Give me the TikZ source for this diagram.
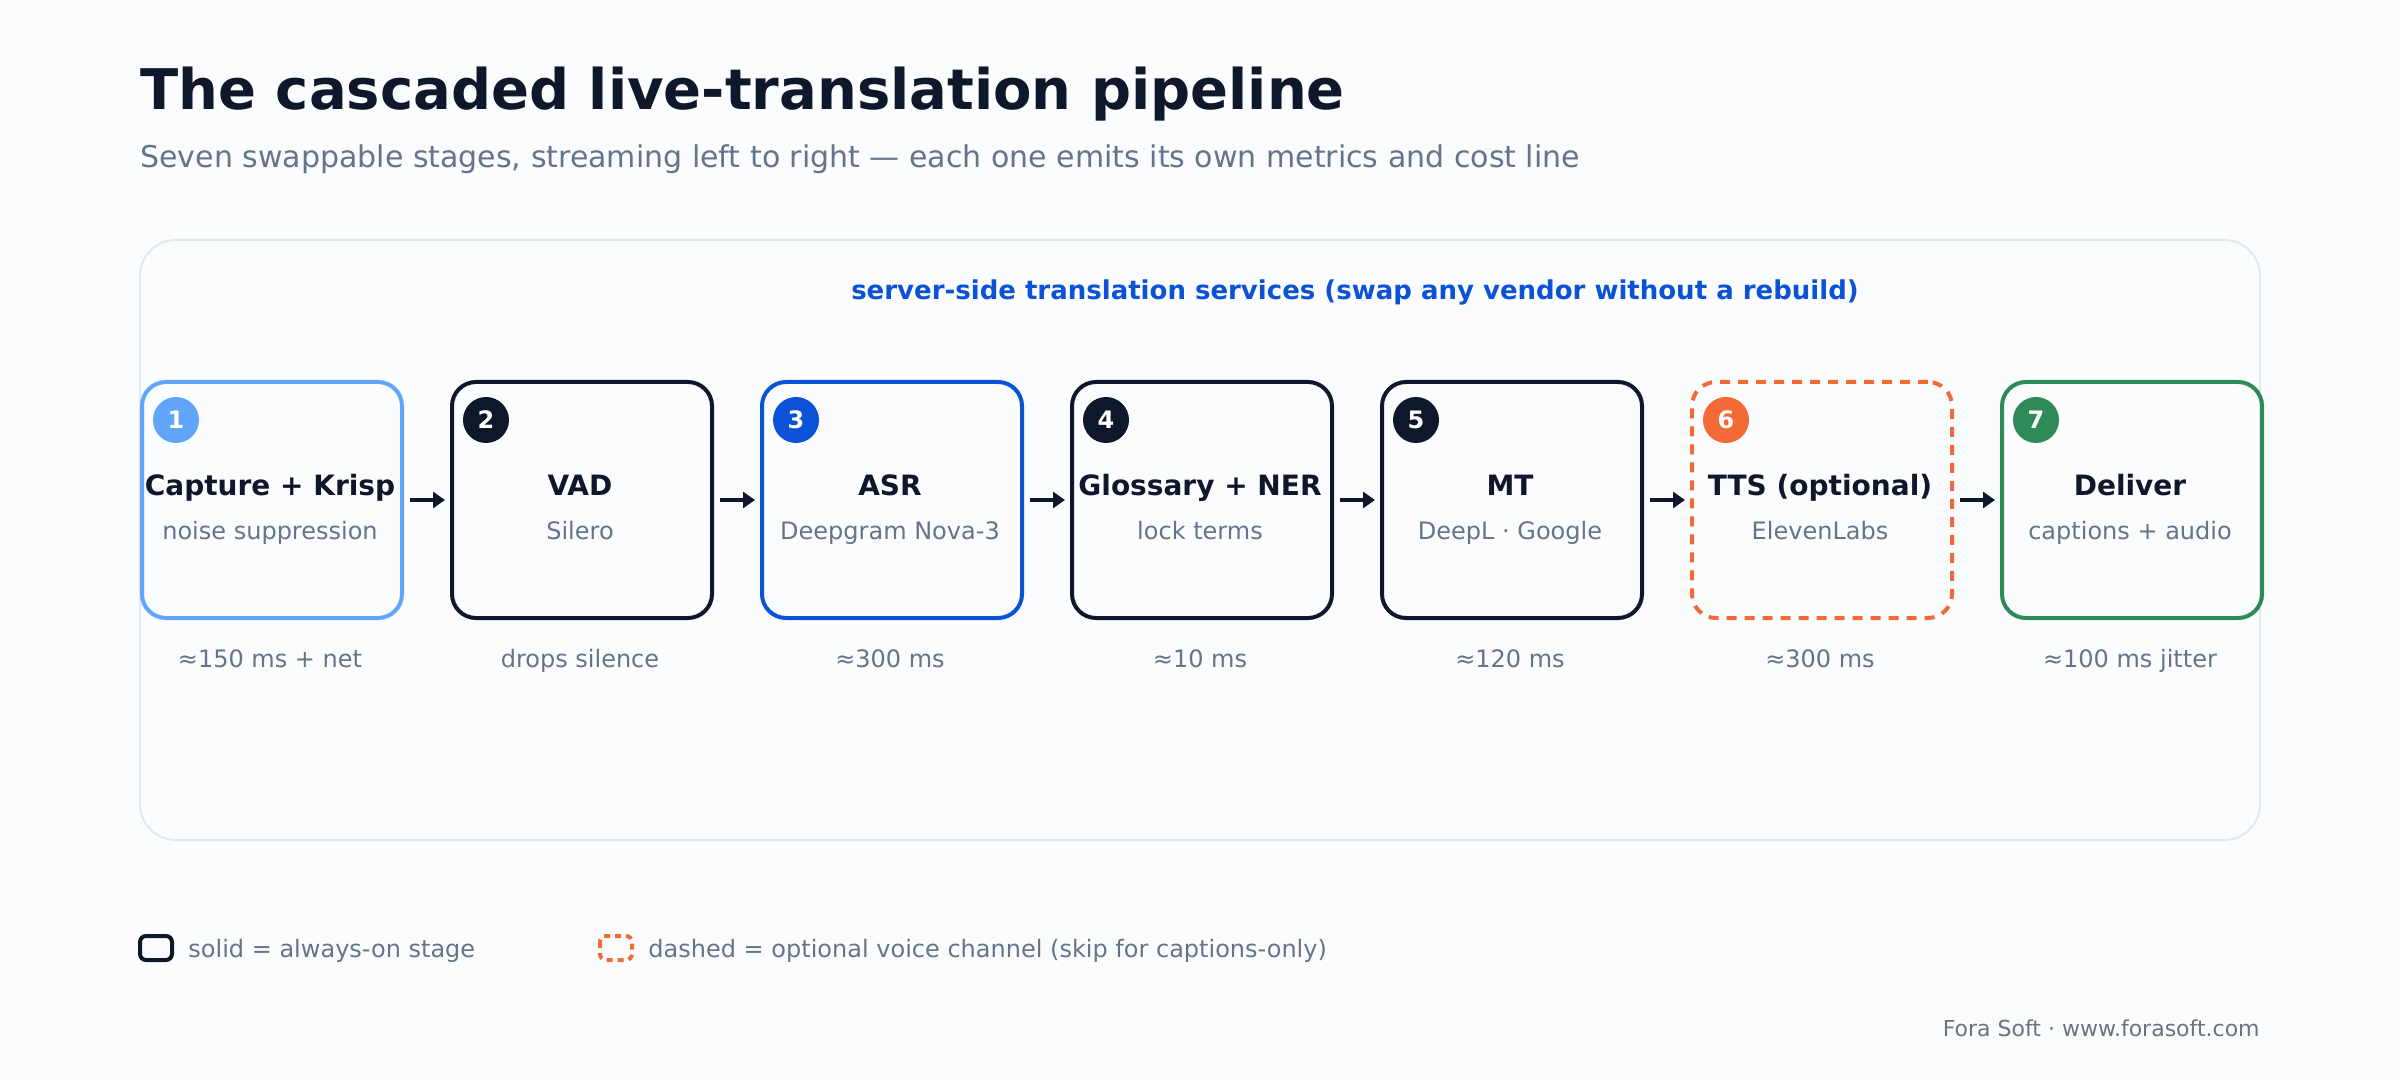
\documentclass[tikz,border=0pt]{standalone}
\usepackage{fontspec}
\setmainfont{DejaVu Sans}
\usetikzlibrary{arrows.meta}
\definecolor{bgc}{HTML}{FBFCFE}
\definecolor{ink}{HTML}{0F172A}
\definecolor{slate}{HTML}{64748B}
\definecolor{panelc}{HTML}{E2E8F0}
\definecolor{lblue}{HTML}{60A5FA}
\definecolor{dblue}{HTML}{0B52D6}
\definecolor{orng}{HTML}{F26A35}
\definecolor{grn}{HTML}{2E8B57}
\definecolor{foot}{HTML}{6B7280}
\newcommand{\fs}[1]{\fontsize{#1}{#1}\selectfont}
\tikzset{
  stagebox/.style={draw=#1, line width=2pt, rounded corners=12pt, minimum width=130pt, minimum height=118pt, inner sep=0pt, anchor=north west},
  badge/.style={circle, fill=#1, minimum size=23pt, inner sep=0pt, text=white, font=\fs{12}\bfseries},
  stitle/.style={text=ink, font=\fs{14}\bfseries, anchor=base},
  ssub/.style={text=slate, font=\fs{12}, anchor=base},
  slat/.style={text=slate, font=\fs{12}, anchor=base},
  flow/.style={draw=ink, line width=2pt, -{Triangle[length=6pt,width=8pt]}, shorten >=0.5pt},
}
\begin{document}
\begin{tikzpicture}[x=1pt,y=-1pt]
\useasboundingbox (0,0) rectangle (1200,540);
\fill[bgc] (0,0) rectangle (1200,540);
% title
\node[anchor=base west, inner sep=0pt, text=ink, font=\fs{28}\bfseries] (title) at (70,55) {The cascaded live-translation pipeline};
\node[anchor=base west, inner sep=0pt, text=slate, font=\fs{15}] (subtitle) at (70,84) {Seven swappable stages, streaming left to right — each one emits its own metrics and cost line};
% panel
\draw[panelc, line width=1pt, rounded corners=18pt] (70,120) rectangle (1130,420);
\node[anchor=base, inner sep=0pt, text=dblue, font=\fs{13}\bfseries] (hdr) at (677.5,150) {server-side translation services (swap any vendor without a rebuild)};
% stages
\foreach \i/\col/\t/\s/\l in {
  1/lblue/Capture + Krisp/noise suppression/≈150 ms + net,
  2/ink/VAD/Silero/drops silence,
  3/dblue/ASR/Deepgram Nova-3/≈300 ms,
  4/ink/Glossary + NER/lock terms/≈10 ms,
  5/ink/MT/DeepL · Google/≈120 ms,
  7/grn/Deliver/captions + audio/≈100 ms jitter}{
  \pgfmathsetmacro{\xx}{70+(\i-1)*155}
  \node[stagebox=\col] (s\i) at (\xx,190) {};
  \node[badge=\col] (b\i) at (\xx+18,210) {\i};
  \node[stitle] (t\i) at (\xx+65,248) {\t};
  \node[ssub] (u\i) at (\xx+65,270) {\s};
  \node[slat] (l\i) at (\xx+65,334) {\l};
}
\node[stagebox=orng, dashed, dash pattern=on 5pt off 4pt] (s6) at (845,190) {};
\node[badge=orng] (b6) at (863,210) {6};
\node[stitle] (t6) at (910,248) {TTS (optional)};
\node[ssub] (u6) at (910,270) {ElevenLabs};
\node[slat] (l6) at (910,334) {≈300 ms};
% arrows
\foreach \a/\b in {1/2,2/3,3/4,4/5,5/6,6/7}{
  \draw[flow] ([xshift=3pt]s\a.east) -- ([xshift=-2pt]s\b.west);
}
% legend
\draw[ink, line width=2pt, rounded corners=3pt] (70,468) rectangle (86,480) coordinate (lg1);
\node[anchor=base west, inner sep=0pt, text=slate, font=\fs{12}] (lt1) at (94,478.5) {solid = always-on stage};
\draw[orng, line width=2pt, rounded corners=3pt, dashed, dash pattern=on 3pt off 2.5pt] (300,468) rectangle (316,480) coordinate (lg2);
\node[anchor=base west, inner sep=0pt, text=slate, font=\fs{12}] (lt2) at (324,478.5) {dashed = optional voice channel (skip for captions-only)};
% footer
\node[anchor=base east, inner sep=0pt, text=foot, font=\fs{11}] (footer) at (1130,518) {Fora Soft · www.forasoft.com};
\end{tikzpicture}
\end{document}
